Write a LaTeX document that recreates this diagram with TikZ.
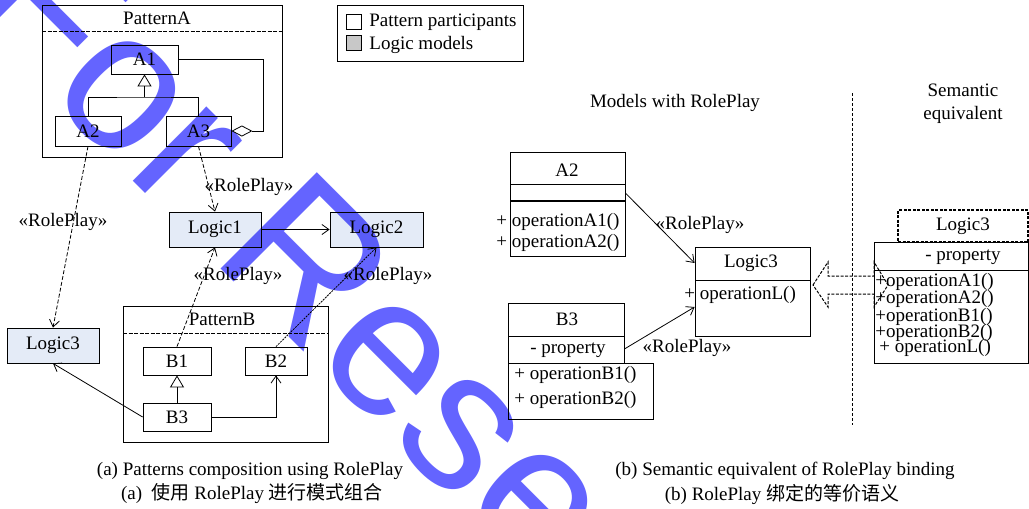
\documentclass[tikz,border=0pt]{standalone}
\usepackage{fontspec}
\setmainfont{Liberation Serif}
\newfontfamily\cjk{Noto Sans CJK SC}
\newfontfamily\wmfont{Liberation Sans}
\usetikzlibrary{arrows.meta}
\definecolor{logicfill}{RGB}{228,235,247}
\definecolor{legendgray}{RGB}{200,200,200}
\definecolor{wmblue}{RGB}{100,100,255}

\begin{document}
\begin{tikzpicture}[x=1pt, y=-1pt, line width=0.8pt,
  every node/.style={font=\fontsize{19}{23}\selectfont},
  box/.style={draw, inner sep=0pt},
  logic/.style={box, fill=logicfill},
  rp/.style={dash pattern=on 4pt off 2pt, -{Straight Barb[length=7pt,width=10pt]}},
  dep/.style={-{Straight Barb[length=7pt,width=10pt]}},
  gen/.style={-{Triangle[open,length=12pt,width=14pt]}},
  agg/.style={-{Diamond[open,length=21pt,width=11pt]}},
  lbl/.style={inner sep=0pt}]
\useasboundingbox (0,0) rectangle (1029,509);

\node[box, minimum width=240pt, minimum height=152pt] (pkgA) at (162,81) {};
\draw[dash pattern=on 4pt off 1.5pt] (42,31) -- (282,31);
\node[lbl] (pkgAname) at (157,18) {PatternA};
\node[box, minimum width=67pt, minimum height=29pt] (A1) at (144.5,59.5) {A1};
\node[box, minimum width=66pt, minimum height=30pt] (A2) at (88,131) {A2};
\node[box, minimum width=65pt, minimum height=30pt] (A3) at (198.5,131) {A3};
\coordinate (genA) at (144.5,97);
\coordinate (aggA) at (263,131);
\draw (A2.north) |- (genA) -| (A3.north);
\draw[gen] (genA) -- (A1.south);
\draw[agg] (A1.east) -| (aggA) -- (A3.east);

\node[box, minimum width=186pt, minimum height=56pt] (legend) at (430,33) {};
\node[box, minimum size=15pt] (keyA) at (353.5,21.5) {};
\node[box, fill=legendgray, minimum size=15pt] (keyB) at (353.5,42.5) {};
\node[lbl, anchor=west] (keyAtext) at (369,22) {Pattern participants};
\node[lbl, anchor=west] (keyBtext) at (369,45) {Logic models};

\node[logic, minimum width=92pt, minimum height=35pt] (L1) at (215,229.5) {Logic1};
\node[logic, minimum width=93pt, minimum height=35pt] (L2) at (376.5,229.5) {Logic2};
\node[logic, minimum width=92pt, minimum height=35pt] (L3) at (53,345.5) {Logic3};

\node[box, minimum width=205pt, minimum height=136pt] (pkgB) at (225.5,374) {};
\draw[dash pattern=on 4pt off 1.5pt] (123,333) -- (328,333);
\node[lbl] (pkgBname) at (222,319) {PatternB};
\node[box, minimum width=68pt, minimum height=28pt] (B1) at (177,361) {B1};
\node[box, minimum width=62pt, minimum height=28pt] (B2) at (276,361) {B2};
\node[box, minimum width=68pt, minimum height=28pt] (B3) at (177,417) {B3};

\draw[rp] (A2.south) -- (L3.north);
\draw[rp] (A3.south) -- (L1.north);
\draw[dep] (L1) -- (L2);
\draw[rp] (B1.north) -- (L1.south);
\draw[rp, dash pattern=on 2pt off 1pt] (B2.north) -- (L2.south);
\draw[gen] (B3) -- (B1);
\draw[dep] (B3.east) -| (B2.south);
\draw[dep] (B3.west) -- (L3.south);

\node[lbl] (rpA2) at (63,222) {«RolePlay»};
\node[lbl] (rpA3) at (249,187) {«RolePlay»};
\node[lbl] (rpB1) at (238,276) {«RolePlay»};
\node[lbl] (rpB2) at (388,276) {«RolePlay»};

\node[lbl] (modeltitle) at (675,103) {Models with RolePlay};
\node[box, minimum width=115pt, minimum height=104pt] (A2c) at (567.5,204) {};
\draw (510,184) -- (625,184);
\draw[line width=1.5pt] (510,201) -- (625,201);
\node[lbl] (A2cname) at (567,170) {A2};
\node[lbl, anchor=west] (opA1) at (496,222) {+ operationA1()};
\node[lbl, anchor=west] (opA2) at (496,243) {+ operationA2()};

\node[box, minimum width=115pt, minimum height=89pt] (L3c) at (752.5,291.5) {};
\draw (695,280) -- (810,280);
\node[lbl] (L3cname) at (751,263) {Logic3};
\node[lbl, anchor=west] (opL) at (684,295) {+ operationL()};

\node[box, minimum width=116pt, minimum height=60pt] (B3c) at (566,333) {};
\draw (508,336) -- (624,336);
\node[box, minimum width=145pt, minimum height=56pt] (B3ops) at (580.5,391) {};
\node[lbl] (B3cname) at (567,319) {B3};
\node[lbl] (B3prop) at (568,350) {- property};
\node[lbl, anchor=west] (opB1) at (514,375) {+ operationB1()};
\node[lbl, anchor=west] (opB2) at (514,400) {+ operationB2()};

\draw[dep] ([yshift=11pt]A2c.east) -- ([yshift=28.5pt]L3c.west);
\draw[dep] ([yshift=-16pt]B3c.east) -- ([yshift=-15.5pt]L3c.west);
\node[lbl] (rpA2c) at (700,225) {«RolePlay»};
\node[lbl] (rpB3c) at (687,348) {«RolePlay»};

\draw[dash pattern=on 3pt off 2pt] (852,93) -- (852,425);
\node[lbl, align=center] (semtitle) at (963,104) {Semantic\\equivalent};

\node[box, dash pattern=on 3pt off 1.5pt, line width=1.4pt, minimum width=130pt, minimum height=32pt] (L3eq) at (963,226) {Logic3};
\node[box, minimum width=154.5pt, minimum height=121pt] (L3full) at (951.25,302.5) {};
\draw (874,270) -- (1029,270);
\node[lbl] (L3prop) at (963,257) {- property};
\node[lbl, anchor=west] (eqA1) at (875,282) {+operationA1()};
\node[lbl, anchor=west] (eqA2) at (875,299) {+operationA2()};
\node[lbl, anchor=west] (eqB1) at (875,317) {+operationB1()};
\node[lbl, anchor=west] (eqB2) at (875,333) {+operationB2()};
\node[lbl, anchor=west] (eqL) at (879,348) {+ operationL()};
\draw[dash pattern=on 3pt off 1.5pt, line width=1pt] (813,285) -- (828,262) -- (828,276) -- (874,276) -- (874,262)
  -- (888,285) -- (874,307) -- (874,294) -- (828,294) -- (828,307) -- cycle;

\node[lbl] (capA) at (250,471) {(a) Patterns composition using RolePlay};
\node[lbl] (capAcn) at (252,494) {(a)~ {\cjk 使用} RolePlay {\cjk 进行模式组合}};
\node[lbl] (capB) at (785,471) {(b) Semantic equivalent of RolePlay binding};
\node[lbl] (capBcn) at (782,494) {(b) RolePlay {\cjk 绑定的等价语义}};

\begin{scope}[blend mode=multiply]
\node[text=wmblue, font=\wmfont\fontsize{198}{200}\selectfont, rotate=-45, anchor=base west, inner sep=0pt] (wm) at (-40,8) {For Rese};
\end{scope}
\end{tikzpicture}
\end{document}
